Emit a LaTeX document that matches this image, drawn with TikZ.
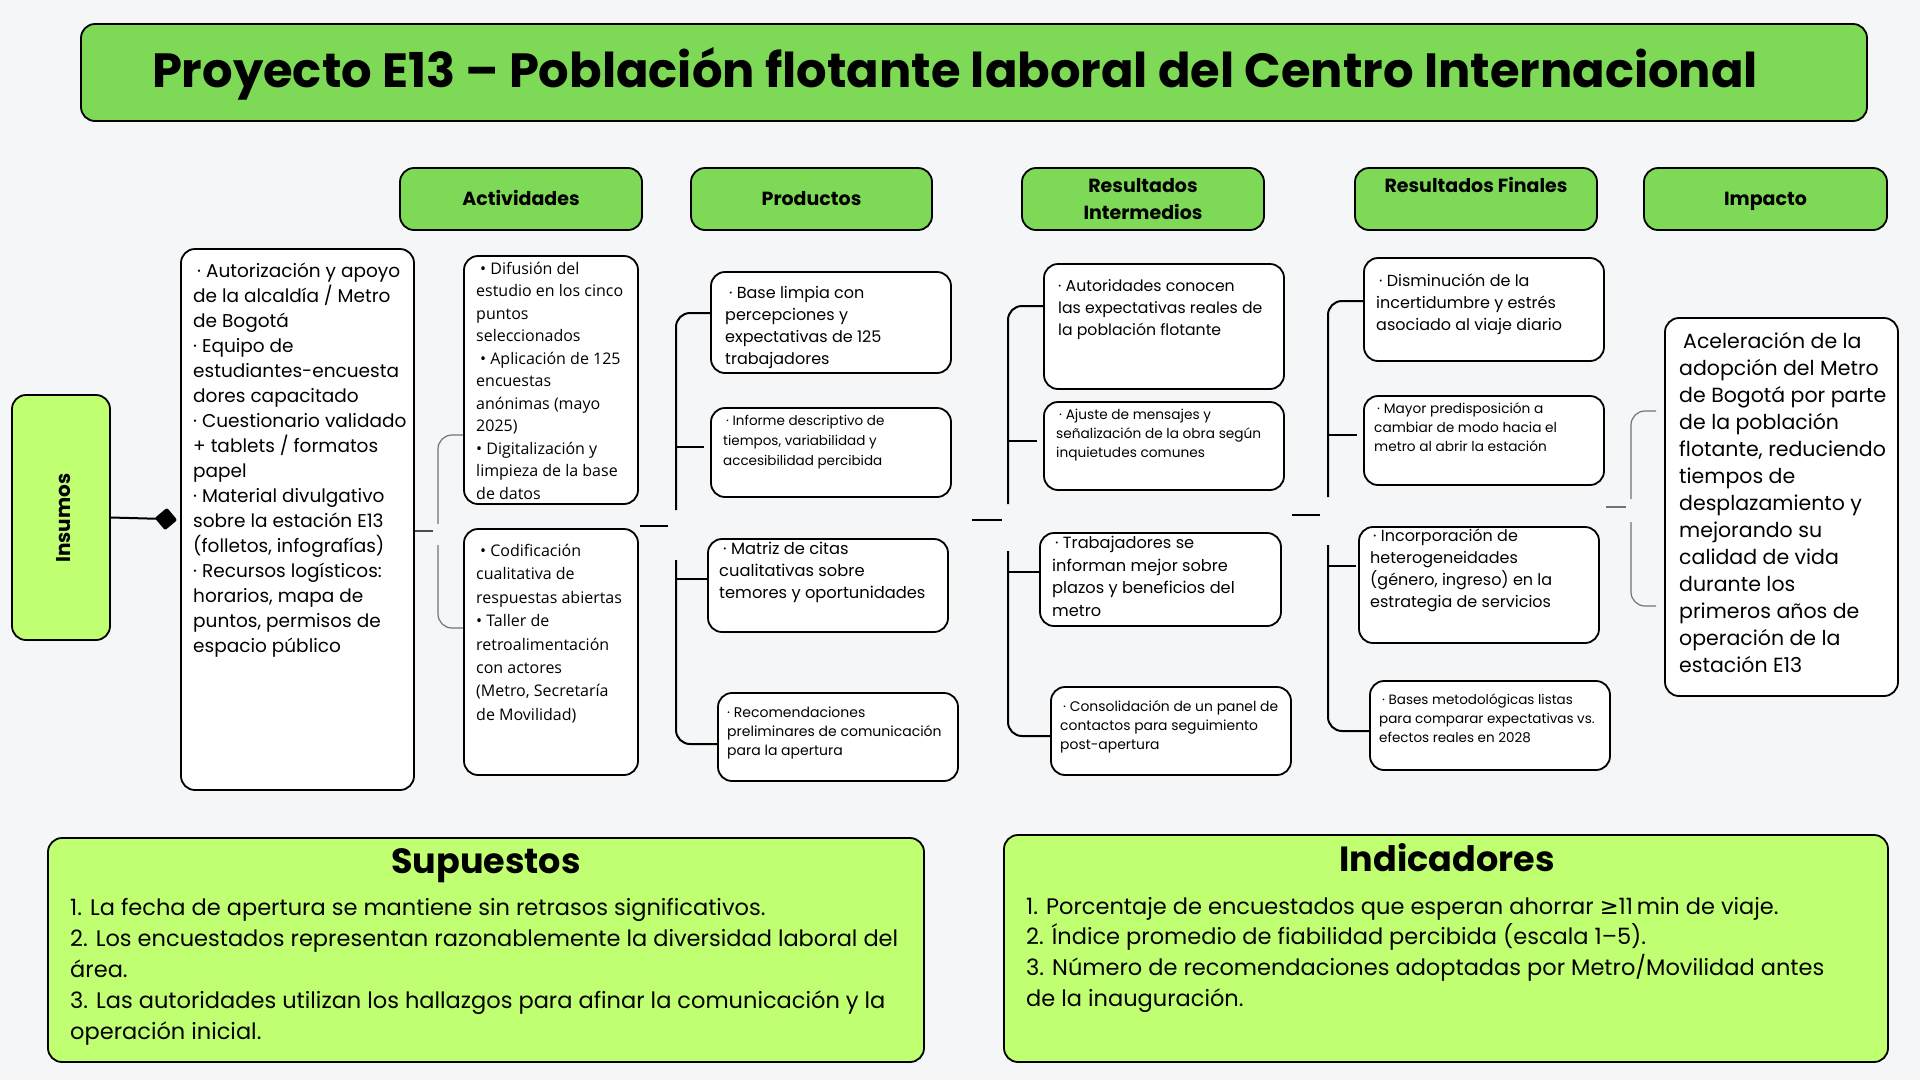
\documentclass[tikz,border=0pt]{standalone}
\usepackage{fontspec}
\setmainfont{Poppins}
\newfontfamily\osans{Open Sans}
\newfontfamily\djv{DejaVu Sans}
\usetikzlibrary{fit}
\definecolor{bg}{HTML}{F5F6F8}
\definecolor{hgreen}{HTML}{7ED957}
\definecolor{lime}{HTML}{C1FF72}
\newcommand\fsz[2]{\fontsize{#1}{#2}\selectfont}
\begin{document}
\begin{tikzpicture}[x=1pt,y=-1pt,
  box/.style={draw=black, line width=1.8pt, rounded corners=14pt, fill=white, inner sep=0pt},
  gbox/.style={box, fill=hgreen},
  lbox/.style={box, fill=lime},
  txt/.style={anchor=north west, inner sep=0pt, align=left},
  htxt/.style={inner sep=0pt, align=center, font=\bfseries\fsz{19}{27}},
  h1txt/.style={htxt, text height=14pt, text depth=4pt},
  brace/.style={draw=black, line width=2pt, rounded corners=14pt},
  gbrace/.style={draw=black!55, line width=1.2pt, rounded corners=14pt}]
\useasboundingbox (0,0) rectangle (1920,1080);
\fill[bg] (0,0) rectangle (1920,1080);

% title
\node[gbox, fit={(81,24) (1867,121)}] (title) {};
\node[inner sep=0pt, font=\bfseries\fsz{48}{56}] (titleT) at (955,73.5) {Proyecto E13 – Población flotante laboral del Centro Internacional};

% headers
\node[gbox, fit={(400,168) (642,230)}] (hA) {};
\node[gbox, fit={(691,168) (932,230)}] (hP) {};
\node[gbox, fit={(1022,168) (1264,230)}] (hRI) {};
\node[gbox, fit={(1355,168) (1597,230)}] (hRF) {};
\node[gbox, fit={(1644,168) (1887,230)}] (hI) {};
\node[h1txt] (hAT) at ([yshift=-1pt]hA.center) {Actividades};
\node[h1txt] (hPT) at ([yshift=-1pt]hP.center) {Productos};
\node[htxt] (hRIT) at (hRI.center) {Resultados\\Intermedios};
\node[h1txt] (hRFT) at (1476,187) {Resultados Finales};
\node[h1txt] (hIT) at ([yshift=-1pt]hI.center) {Impacto};

% insumos
\node[lbox, fit={(12,395) (110,640)}] (ins) {};
\node[inner sep=0pt, rotate=90, font=\bfseries\fsz{20}{24}] (insT) at (64,518) {Insumos};
\node[box, fit={(181,249) (414,790)}] (in) {};
\node[txt, font=\fsz{18.5}{25}] (inT) at (193,259.5) {\strut\hspace{4pt}· Autorización y apoyo\\de la alcaldía / Metro\\de Bogotá\\· Equipo de\\estudiantes-encuesta\\dores capacitado\\· Cuestionario validado\\+ tablets / formatos\\papel\\· Material divulgativo\\sobre la estación E13\\(folletos, infografías)\\· Recursos logísticos:\\horarios, mapa de\\puntos, permisos de\\espacio público};

% actividades
\node[box, fit={(464,256) (638,504)}] (a1) {};
\node[box, fit={(464,529) (638,775)}] (a2) {};
\node[txt, font=\osans\fsz{16}{22.5}] (a1T) at (476,258.5) {\strut\hspace{4pt}• Difusión del\\estudio en los cinco\\puntos\\seleccionados\\\hspace{4pt}• Aplicación de 125\\encuestas\\anónimas (mayo\\2025)\\• Digitalización y\\limpieza de la base\\de datos};
\node[txt, font=\osans\fsz{16}{23.4}] (a2T) at (476,540) {\strut\hspace{4pt}• Codificación\\cualitativa de\\respuestas abiertas\\• Taller de\\retroalimentación\\con actores\\(Metro, Secretaría\\de Movilidad)};

% productos
\node[box, fit={(711,272) (951,373)}] (p1) {};
\node[box, fit={(711,408) (951,497)}] (p2) {};
\node[box, fit={(708,539) (948,632)}] (p3) {};
\node[box, fit={(718,693) (958,781)}] (p4) {};
\node[txt, font=\fsz{16}{22}] (p1T) at (725,283) {\strut\hspace{4pt}· Base limpia con\\percepciones y\\expectativas de 125\\trabajadores};
\node[txt, font=\fsz{13.5}{19.6}] (p2T) at (723,412) {\strut\hspace{3pt}· Informe descriptivo de\\tiempos, variabilidad y\\accesibilidad percibida};
\node[txt, font=\fsz{16.3}{22}] (p3T) at (719,539) {\strut\hspace{4pt}· Matriz de citas\\cualitativas sobre\\temores y oportunidades};
\node[txt, font=\fsz{14}{19}] (p4T) at (727,703.5) {\strut· Recomendaciones\\preliminares de comunicación\\para la apertura};

% resultados intermedios
\node[box, fit={(1044,264) (1284,389)}] (r1) {};
\node[box, fit={(1044,402) (1284,490)}] (r2) {};
\node[box, fit={(1040,533) (1281,626)}] (r3) {};
\node[box, fit={(1051,687) (1291,775)}] (r4) {};
\node[txt, font=\fsz{15.7}{22}] (r1T) at (1058,276) {\strut· Autoridades conocen\\las expectativas reales de\\la población flotante};
\node[txt, font=\fsz{13.7}{19}] (r2T) at (1056,406.4) {\strut\hspace{3pt}· Ajuste de mensajes y\\señalización de la obra según\\inquietudes comunes};
\node[txt, font=\fsz{16.2}{22.5}] (r3T) at (1052,532.6) {\strut\hspace{3pt}· Trabajadores se\\informan mejor sobre\\plazos y beneficios del\\metro};
\node[txt, font=\fsz{13.9}{19}] (r4T) at (1060,697.5) {\strut\hspace{3pt}· Consolidación de un panel de\\contactos para seguimiento\\post-apertura};

% resultados finales
\node[box, fit={(1364,258) (1604,361)}] (f1) {};
\node[box, fit={(1364,396) (1604,485)}] (f2) {};
\node[box, fit={(1359,527) (1599,643)}] (f3) {};
\node[box, fit={(1370,681) (1610,770)}] (f4) {};
\node[txt, font=\fsz{16}{22}] (f1T) at (1376,271) {\strut\hspace{3pt}· Disminución de la\\incertidumbre y estrés\\asociado al viaje diario};
\node[txt, font=\fsz{13.7}{19}] (f2T) at (1374,400.4) {\strut\hspace{3pt}· Mayor predisposición a\\cambiar de modo hacia el\\metro al abrir la estación};
\node[txt, font=\fsz{16}{22}] (f3T) at (1370,526) {\strut\hspace{3pt}· Incorporación de\\heterogeneidades\\(género, ingreso) en la\\estrategia de servicios};
\node[txt, font=\fsz{13.5}{19}] (f4T) at (1379,691.3) {\strut\hspace{3pt}· Bases metodológicas listas\\para comparar expectativas vs.\\efectos reales en 2028};

% impacto
\node[box, fit={(1665,318) (1898,696)}] (imp) {};
\node[txt, font=\fsz{20.5}{27}] (impT) at (1679,329) {\strut\hspace{4pt}Aceleración de la\\adopción del Metro\\de Bogotá por parte\\de la población\\flotante, reduciendo\\tiempos de\\desplazamiento y\\mejorando su\\calidad de vida\\durante los\\primeros años de\\operación de la\\estación E13};

% supuestos / indicadores
\node[lbox, fit={(48,838) (924,1062)}] (sup) {};
\node[lbox, fit={(1004,835) (1888,1062)}] (ind) {};
\node[inner sep=0pt, font=\bfseries\fsz{35}{40}] (supH) at (486,866) {Supuestos};
\node[inner sep=0pt, font=\bfseries\fsz{35}{40}] (indH) at (1447,858) {Indicadores};
\node[txt, font=\fsz{22.5}{31}] (supT) at (70,893.3) {\strut 1. La fecha de apertura se mantiene sin retrasos significativos.\\2. Los encuestados representan razonablemente la diversidad laboral del\\área.\\3. Las autoridades utilizan los hallazgos para afinar la comunicación y la\\operación inicial.};
\node[txt, font=\fsz{22.5}{30.7}] (indT) at (1026,892.5) {\strut 1. Porcentaje de encuestados que esperan ahorrar {\djv ≥}11\,min de viaje.\\2. Índice promedio de fiabilidad percibida (escala 1–5).\\3. Número de recomendaciones adoptadas por Metro/Movilidad antes\\de la inauguración.};

% ---- connectors ----
% insumos -> inputs
\node[fill=black, rounded corners=2pt, minimum size=16pt, inner sep=0pt, rotate=40] (dia) at (166,519) {};
\draw[line width=2pt] (ins.east) -- (dia.center);

% inputs -> actividades
\coordinate (aIn) at (433,531);
\coordinate (agT) at (438,524); \coordinate (agB) at (438,545);
\coordinate (abT) at (438,435); \coordinate (abB) at (438,628);
\draw[draw=black!70, line width=1.5pt] (in.east |- aIn) -- (aIn);
\draw[gbrace] (agT) -- (abT) -- (abT -| a1.west);
\draw[gbrace] (agB) -- (abB) -- (abB -| a2.west);

% actividades -> productos
\coordinate (pInW) at (640,526); \coordinate (pInE) at (668,526);
\coordinate (pgT) at (676,510); \coordinate (pgB) at (676,560);
\coordinate (pbT) at (676,313); \coordinate (pbB) at (676,744);
\coordinate (pS2) at (676,447); \coordinate (pS3) at (676,579);
\draw[brace] (pInW) -- (pInE);
\draw[brace] (pgT) -- (pbT) -- (pbT -| p1.west);
\draw[brace] (pgB) -- (pbB) -- (pbB -| p4.west);
\draw[brace] (pS2) -- ([xshift=-6pt]pS2 -| p2.west);
\draw[brace] (pS3) -- (pS3 -| p3.west);

% productos -> RI
\coordinate (rInW) at (972,520); \coordinate (rInE) at (1002,520);
\coordinate (rgT) at (1008,504); \coordinate (rgB) at (1008,551);
\coordinate (rbT) at (1008,306); \coordinate (rbB) at (1008,736);
\coordinate (rS2) at (1008,441); \coordinate (rS3) at (1008,572);
\draw[brace] (rInW) -- (rInE);
\draw[brace] (rgT) -- (rbT) -- (rbT -| r1.west);
\draw[brace] (rgB) -- (rbB) -- (rbB -| r4.west);
\draw[brace] (rS2) -- ([xshift=-6pt]rS2 -| r2.west);
\draw[brace] (rS3) -- (rS3 -| r3.west);

% RI -> RF
\coordinate (fInW) at (1292,515); \coordinate (fInE) at (1320,515);
\coordinate (fgT) at (1328,497); \coordinate (fgB) at (1328,545);
\coordinate (fbT) at (1328,301); \coordinate (fbB) at (1328,731);
\coordinate (fS2) at (1328,435); \coordinate (fS3) at (1328,566);
\draw[brace] (fInW) -- (fInE);
\draw[brace] (fgT) -- (fbT) -- (fbT -| f1.west);
\draw[brace] (fgB) -- (fbB) -- (fbB -| f4.west);
\draw[brace] (fS2) -- ([xshift=-6pt]fS2 -| f2.west);
\draw[brace] (fS3) -- ([xshift=-2pt]fS3 -| f3.west);

% RF -> impacto
\coordinate (iInW) at (1606,507); \coordinate (iInE) at (1626,507);
\coordinate (igT) at (1631,499); \coordinate (igB) at (1631,522);
\coordinate (ibT) at (1631,411); \coordinate (ibB) at (1631,606);
\coordinate (iEndT) at (1656,411); \coordinate (iEndB) at (1656,606);
\draw[gbrace] (iInW) -- (iInE);
\draw[gbrace] (igT) -- (ibT) -- (iEndT);
\draw[gbrace] (igB) -- (ibB) -- (iEndB);
\end{tikzpicture}
\end{document}
